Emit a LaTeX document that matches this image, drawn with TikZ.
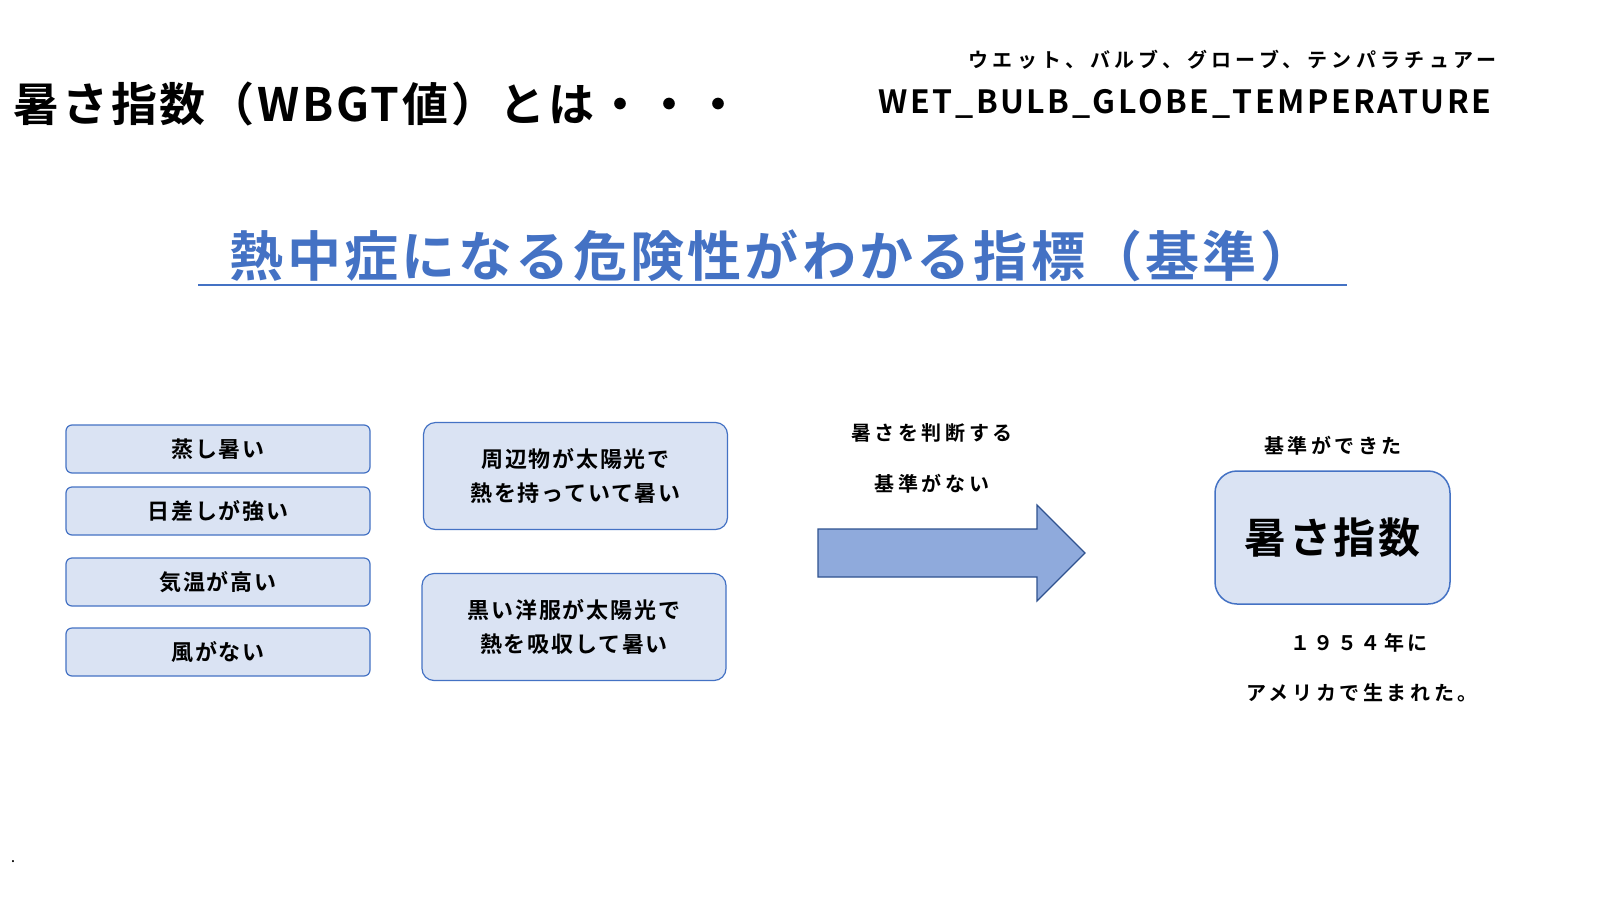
\documentclass[tikz,border=0pt]{standalone}
\usepackage{fontspec}
\setmainfont{Noto Sans CJK JP}[BoldFont={* Bold}]
\newfontfamily\jp{Noto Sans CJK JP}[BoldFont={* Bold}]
\newcommand{\ls}[1]{\addfontfeatures{LetterSpace=#1}}
\definecolor{boxfill}{HTML}{DAE3F3}
\definecolor{boxline}{HTML}{4472C4}
\definecolor{arrfill}{HTML}{8FAADC}
\definecolor{arrline}{HTML}{2F528F}
\definecolor{titleblue}{HTML}{4472C4}
\tikzset{
  x=1pt,y=-1pt,
  sbox/.style={draw=boxline,fill=boxfill,line width=1.2pt,rounded corners=6pt,minimum width=304pt,minimum height=48pt,font=\bfseries\fontsize{22}{26}\selectfont\ls{8}},
  mbox/.style={draw=boxline,fill=boxfill,line width=1.2pt,rounded corners=12pt,minimum width=304pt,minimum height=107pt,align=center,font=\bfseries\fontsize{22}{34}\selectfont\ls{8}},
  lab/.style={font=\bfseries\fontsize{20}{24}\selectfont\ls{18}}
}
\begin{document}
\begin{tikzpicture}
\useasboundingbox (0,0) rectangle (1600,900);
\fill[white] (0,0) rectangle (1600,900);
\node[anchor=west,font=\bfseries\fontsize{46}{50}\selectfont\ls{6}] (title) at (10,104) {暑さ指数（WBGT値）とは・・・};
\node[anchor=east,font=\bfseries\fontsize{20}{24}\selectfont\ls{22}] (kana) at (1500,60) {ウエット、バルブ、グローブ、テンパラチュアー};
\node[anchor=east,font=\bfseries\fontsize{32}{36}\selectfont\ls{8}] (wbgt) at (1495,104) {WET\_BULB\_GLOBE\_TEMPERATURE};
\node[font=\bfseries\fontsize{54}{60}\selectfont\ls{6},text=titleblue] (sub) at (772,256) {熱中症になる危険性がわかる指標（基準）};
\draw[titleblue,line width=2pt] (198,285) -- (1347,285);
\node[sbox] (b1) at (218,449) {蒸し暑い};
\node[sbox] (b2) at (218,511) {日差しが強い};
\node[sbox] (b3) at (218,582) {気温が高い};
\node[sbox] (b4) at (218,652) {風がない};
\node[mbox] (m1) at (575.5,476) {周辺物が太陽光で\\熱を持っていて暑い};
\node[mbox] (m2) at (574,627) {黒い洋服が太陽光で\\熱を吸収して暑い};
\draw[draw=arrline,fill=arrfill,line width=1.2pt] (818,529) -- (1037,529) -- (1037,505) -- (1085,553) -- (1037,601) -- (1037,577) -- (818,577) -- cycle;
\node[lab] (t1) at (932,433) {暑さを判断する};
\node[lab] (t2) at (932,484) {基準がない};
\node[lab] (t3) at (1333,446) {基準ができた};
\node[draw=boxline,fill=boxfill,line width=1.5pt,rounded corners=22pt,minimum width=235pt,minimum height=133pt,font=\bfseries\fontsize{42}{46}\selectfont\ls{6}] (idx) at (1332.5,537.5) {暑さ指数};
\node[lab] (t4) at (1359,643) {１９５４年に};
\node[lab] (t5) at (1362,693) {アメリカで生まれた。};
\node[font=\fontsize{16}{18}\selectfont] (dot) at (13,862) {.};
\end{tikzpicture}
\end{document}
